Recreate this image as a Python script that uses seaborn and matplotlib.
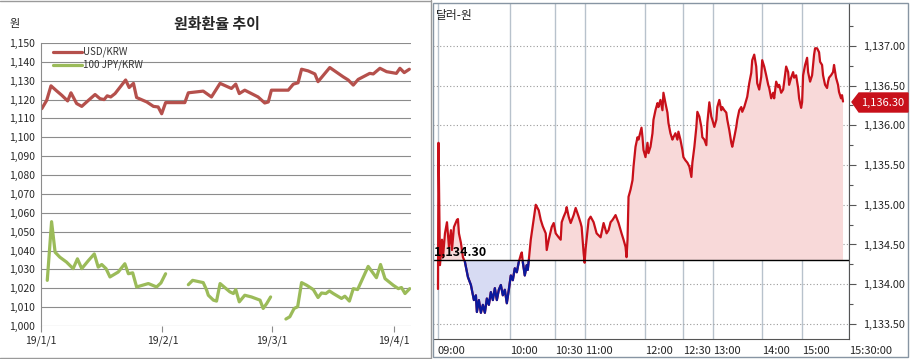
import numpy as np
import pandas as pd
import matplotlib
matplotlib.use("Agg")
import matplotlib.pyplot as plt
import seaborn as sns
from matplotlib.patches import Polygon, Rectangle
from matplotlib.lines import Line2D
from matplotlib.ticker import FixedLocator, FuncFormatter

sns.set_style("white")
plt.rcParams['font.family'] = ['Noto Sans CJK KR', 'DejaVu Sans']

# ---------------- Left panel data (days since 2019-01-01) ----------------
usd_day = [0.2, 1.45, 2.55, 4.0, 5.3, 6.8, 7.65, 9.1, 10.4, 12.1, 13.8, 15.05, 16.1, 16.9,
           17.8, 18.9, 21.6, 22.5, 23.6, 24.4, 27.0, 28.7, 29.9, 30.8, 31.8, 36.7, 37.6,
           41.4, 43.5, 45.7, 48.6, 49.7, 50.6, 52.0, 55.4, 57.1, 58.0, 58.8, 63.1, 64.4,
           65.6, 66.5, 68.2, 69.9, 70.7, 73.7, 77.1, 78.4, 79.7, 80.95, 83.9, 84.8, 86.5,
           88.2, 90.7, 91.6, 92.7, 94.0]
usd_val = [1115.2, 1119.6, 1127.3, 1124.6, 1122.3, 1119.3, 1123.6, 1117.9, 1116.4, 1119.6,
           1122.7, 1120.5, 1120.0, 1122.0, 1121.4, 1123.2, 1130.4, 1126.4, 1128.6, 1121.1,
           1118.75, 1116.4, 1116.1, 1112.5, 1118.4, 1118.4, 1123.6, 1124.5, 1121.4, 1128.6,
           1125.9, 1128.2, 1123.2, 1125.0, 1121.4, 1118.2, 1118.75, 1125.0, 1125.0, 1128.2,
           1128.9, 1136.1, 1135.2, 1133.6, 1129.5, 1137.0, 1132.1, 1130.4, 1127.7, 1130.7,
           1133.9, 1133.6, 1136.6, 1134.8, 1133.9, 1136.6, 1134.3, 1136.1]

jpy_day = [1.6, 2.7, 3.6, 4.8, 6.5, 8.2, 9.3, 10.4, 12.1, 13.6, 14.6, 15.5, 16.6, 17.6, 19.7,
           21.4, 22.3, 23.4, 24.4, 27.4, 29.5, 30.6, 31.8,
           37.6, 38.7, 41.4, 42.3, 42.7, 44.0, 44.8, 45.7, 48.2, 49.1, 49.7, 50.6, 52.0, 53.7,
           55.9, 56.7, 57.6, 58.6,
           62.5, 63.5, 64.6, 65.5, 66.5, 67.8, 69.5, 70.7, 71.6, 72.7, 73.6, 74.6, 76.7, 77.55,
           78.7, 79.7, 80.8, 83.5, 85.6, 86.65, 87.8, 89.9, 91.2, 92.0, 92.9, 94.1]
jpy_val = [1024.2, 1055.3, 1039.1, 1036.5, 1033.9, 1030.4, 1035.6, 1030.4, 1034.7, 1038.2,
           1031.2, 1032.6, 1030.4, 1026.0, 1028.6, 1033.0, 1027.7, 1028.2, 1020.7, 1022.5,
           1020.7, 1022.8, 1027.7,
           1021.9, 1024.2, 1023.0, 1018.9, 1016.3, 1013.7, 1013.2, 1022.5, 1018.1, 1017.2,
           1019.3, 1012.8, 1016.3, 1015.4, 1013.7, 1009.3, 1011.9, 1015.4,
           1003.7, 1004.9, 1009.3, 1010.2, 1023.0, 1021.6, 1019.3, 1015.1, 1017.5, 1017.2,
           1018.6, 1017.2, 1014.6, 1015.8, 1013.2, 1019.8, 1019.3, 1031.6, 1025.6, 1032.6,
           1025.1, 1021.6, 1019.8, 1020.4, 1017.2, 1019.8]
jpy_seg = [0] * 23 + [1] * 18 + [2] * 26

date_ticks = [0, 31, 59, 90]
date_labels = ['19/1/1', '19/2/1', '19/3/1', '19/4/1']
left_yticks = list(range(1000, 1151, 10))

# ---------------- Right panel data (intraday, tick index) ----------------
tick_idx = [0, 0.5, 2, 4, 5, 7, 9, 11, 13, 14, 16, 19, 20, 21, 23, 25, 27, 30, 33, 36, 38, 39,
            41, 43, 45, 47, 49, 51, 53, 55, 57, 59, 61, 63, 65, 67, 69, 71, 73, 75, 77, 79, 81,
            83, 84, 85, 87, 89, 90, 91, 93, 95, 98, 101, 103, 105, 108, 109, 111, 114, 116,
            118, 121, 123, 124, 126, 128, 129, 131, 133, 136, 138, 141, 143, 144, 146, 147,
            148, 151, 153, 156, 159, 163, 166, 169, 171, 173, 175, 178, 181, 184, 186, 188,
            189, 190, 191, 193, 195, 196, 198, 200, 201, 204, 205, 206, 208, 210, 211, 213,
            215, 216, 218, 220, 221, 223, 225, 226, 228, 230, 231, 233, 235, 236, 238, 240,
            241, 243, 245, 246, 248, 250, 252, 254, 255, 257, 259, 260, 262, 264, 265, 267,
            269, 270, 272, 274, 275, 277, 279, 280, 282, 284, 285, 287, 289, 290, 292, 294,
            295, 297, 299, 300, 302, 304, 305, 307, 309, 310, 312, 314, 315, 317, 319, 320,
            322, 324, 325, 327, 329, 331, 332, 334, 336, 337, 339, 341, 342, 344, 346, 347,
            349, 351, 352, 354, 356, 357, 359, 361, 362, 364, 365, 366, 368, 370, 371, 373,
            375, 377, 378, 380, 382, 383, 385, 386, 388, 390, 391, 392, 394, 396, 397, 399,
            401, 402, 404, 405, 406]
usdkrw_rate = [1133.94, 1135.78, 1134.24, 1134.56, 1134.34, 1134.64, 1134.78, 1134.47, 1134.68,
               1134.43, 1134.72, 1134.81, 1134.82, 1134.64, 1134.52, 1134.34, 1134.28, 1134.09,
               1133.99, 1133.80, 1133.86, 1133.65, 1133.80, 1133.64, 1133.74, 1133.64, 1133.82,
               1133.74, 1133.90, 1133.80, 1133.95, 1133.80, 1133.93, 1133.99, 1133.86, 1133.93,
               1133.76, 1133.93, 1134.11, 1134.05, 1134.20, 1134.15, 1134.28, 1134.37, 1134.40,
               1134.28, 1134.11, 1134.24, 1134.18, 1134.30, 1134.56, 1134.74, 1135.00, 1134.93,
               1134.81, 1134.73, 1134.64, 1134.43, 1134.56, 1134.72, 1134.77, 1134.64, 1134.59,
               1134.56, 1134.78, 1134.85, 1134.91, 1134.97, 1134.85, 1134.77, 1134.87, 1134.96,
               1134.85, 1134.77, 1134.72, 1134.39, 1134.27, 1134.45, 1134.81, 1134.85, 1134.78,
               1134.64, 1134.59, 1134.77, 1134.64, 1134.68, 1134.78, 1134.81, 1134.87, 1134.77,
               1134.64, 1134.56, 1134.47, 1134.34, 1134.56, 1135.10, 1135.19, 1135.31, 1135.48,
               1135.73, 1135.85, 1135.82, 1135.97, 1135.85, 1135.69, 1135.60, 1135.78, 1135.65,
               1135.73, 1135.90, 1136.07, 1136.19, 1136.28, 1136.23, 1136.32, 1136.19, 1136.41,
               1136.28, 1136.16, 1136.03, 1135.90, 1135.82, 1135.85, 1135.90, 1135.82, 1135.92,
               1135.82, 1135.69, 1135.60, 1135.56, 1135.53, 1135.48, 1135.35, 1135.53, 1135.73,
               1135.98, 1136.17, 1136.11, 1135.98, 1135.85, 1135.82, 1135.75, 1136.03, 1136.29,
               1136.11, 1136.07, 1135.98, 1136.07, 1136.23, 1136.32, 1136.19, 1136.23, 1136.19,
               1136.16, 1136.07, 1135.94, 1135.78, 1135.73, 1135.85, 1135.98, 1136.07, 1136.19,
               1136.23, 1136.17, 1136.23, 1136.32, 1136.36, 1136.53, 1136.66, 1136.82, 1136.89,
               1136.74, 1136.53, 1136.45, 1136.61, 1136.82, 1136.74, 1136.63, 1136.51, 1136.47,
               1136.34, 1136.41, 1136.34, 1136.55, 1136.48, 1136.51, 1136.41, 1136.45, 1136.55,
               1136.74, 1136.67, 1136.51, 1136.60, 1136.67, 1136.60, 1136.63, 1136.47, 1136.34,
               1136.22, 1136.29, 1136.63, 1136.76, 1136.85, 1136.67, 1136.55, 1136.63, 1136.89,
               1136.97, 1136.97, 1136.92, 1136.80, 1136.76, 1136.63, 1136.51, 1136.47, 1136.55,
               1136.60, 1136.63, 1136.67, 1136.76, 1136.60, 1136.51, 1136.42, 1136.34, 1136.38,
               1136.30]
base_rate = 1134.30
last_rate = 1136.30
time_pos = [0, 72, 117, 147, 208, 246, 276, 325, 365, 412]
time_labels = ['09:00', '10:00', '10:30', '11:00', '12:00', '12:30', '13:00', '14:00',
               '15:00', '15:30:00']
right_yticks = [1133.5, 1134.0, 1134.5, 1135.0, 1135.5, 1136.0, 1136.5, 1137.0]

# ---------------- Figure ----------------
W, H = 910, 359
fig = plt.figure(figsize=(W / 100, H / 100), dpi=100)


def fx(x):
    return x / W


def fy(y):
    return 1 - y / H


# ---- Left panel ----
axL = fig.add_axes([fx(41), fy(326), fx(410.5) - fx(41), fy(43) - fy(326)])
usd_df = pd.DataFrame({'day': usd_day, 'rate': usd_val})
jpy_df = pd.DataFrame({'day': jpy_day, 'rate': jpy_val, 'seg': jpy_seg})
usd_col = '#B5504C'
jpy_col = '#9BBB59'
sns.lineplot(data=usd_df, x='day', y='rate', ax=axL, color=usd_col, lw=2.3,
             sort=False, estimator=None)
sns.lineplot(data=jpy_df, x='day', y='rate', units='seg', estimator=None, ax=axL,
             color=jpy_col, lw=2.3, sort=False)
axL.set_xlim(0, 94.3)
axL.set_ylim(1000, 1150)
axL.set_yticks(left_yticks)
axL.set_yticklabels([f'{v:,}' for v in left_yticks], fontsize=7.5)
axL.set_xticks(date_ticks)
axL.set_xticklabels(date_labels, fontsize=7.5)
axL.set_xlabel('')
axL.set_ylabel('')
axL.grid(axis='y', color='#8C8C8C', lw=0.8)
axL.grid(axis='x', visible=False)
for s in ['top', 'right', 'bottom']:
    axL.spines[s].set_visible(False)
axL.spines['left'].set_color('#8C8C8C')
axL.spines['left'].set_linewidth(0.8)
axL.tick_params(axis='y', length=0, pad=4)
axL.tick_params(axis='x', length=4, width=0.8, color='#8C8C8C', pad=3, direction='out')
axL.xaxis.set_tick_params(which='both', bottom=True)
# manual legend
axL.add_line(Line2D([0.032, 0.111], [0.968, 0.968], transform=axL.transAxes,
                    color=usd_col, lw=2.3))
axL.add_line(Line2D([0.032, 0.111], [0.922, 0.922], transform=axL.transAxes,
                    color=jpy_col, lw=2.3))
axL.text(0.113, 0.968, 'USD/KRW', transform=axL.transAxes, fontsize=7,
         va='center', ha='left', color='#333333')
axL.text(0.113, 0.922, '100 JPY/KRW', transform=axL.transAxes, fontsize=7,
         va='center', ha='left', color='#333333')

fig.text(fx(217), fy(24), '원화환율 추이', fontsize=10.8, fontweight='bold',
         ha='center', va='center')
fig.text(fx(15), fy(24), '원', fontsize=8, ha='center', va='center')

# left frame
fig.add_artist(Line2D([fx(431), fx(431)], [fy(0), fy(358)], color='#9A9A9A', lw=1))
fig.add_artist(Line2D([fx(0), fx(431)], [fy(357.5), fy(357.5)], color='#9A9A9A', lw=1))
fig.add_artist(Line2D([fx(0), fx(431)], [fy(1), fy(1)], color='#9A9A9A', lw=1))

# ---- Right panel ----
axR = fig.add_axes([fx(433), fy(339), fx(849) - fx(433), fy(3) - fy(339)])
p = np.array(tick_idx, dtype=float)
v = np.array(usdkrw_rate)
red = '#C8101A'
blue = '#0A1A9E'
axR.fill_between(p, v, base_rate, where=v >= base_rate, interpolate=True,
                 color='#F8D9D9', lw=0)
axR.fill_between(p, v, base_rate, where=v <= base_rate, interpolate=True,
                 color='#D7DBF3', lw=0)
rate_df = pd.DataFrame({'idx': tick_idx, 'rate': usdkrw_rate})
sns.lineplot(data=rate_df, x='idx', y='rate', ax=axR, color=red, lw=1.6,
             sort=False, estimator=None)
axR.plot(p, np.where(v <= base_rate + 0.005, v, np.nan), color=blue, lw=1.6)
axR.axhline(base_rate, color='black', lw=1)
axR.text(-4, base_rate + 0.02, f'{base_rate:,.2f}', fontsize=9, fontweight='bold',
         ha='left', va='bottom', color='black')

axR.set_xlim(-5, 412)
axR.set_ylim(1133.31, 1137.54)
axR.set_xlabel('')
axR.set_ylabel('')
axR.set_xticks(time_pos)
axR.set_xticklabels(time_labels, ha='left', fontsize=8)
axR.yaxis.tick_right()
axR.yaxis.set_major_locator(FixedLocator(right_yticks))
axR.yaxis.set_minor_locator(FixedLocator([t + 0.25 for t in right_yticks]))
axR.yaxis.set_major_formatter(FuncFormatter(lambda val, pos: f'{val:,.2f}'))
axR.tick_params(axis='y', which='major', length=5, width=0.8, color='#555555',
                labelsize=7.8, pad=5)
axR.tick_params(axis='y', which='minor', length=3, width=0.8, color='#555555')
axR.tick_params(axis='x', length=4, width=0.8, color='#555555', pad=1)
axR.grid(axis='x', color='#B8C2CC', lw=1, ls='-')
axR.grid(axis='y', which='major', color='#9A9A9A', lw=0.8, ls=(0, (1, 2)))
axR.spines['top'].set_visible(False)
axR.spines['left'].set_visible(False)
axR.spines['right'].set_color('#555555')
axR.spines['bottom'].set_color('#555555')
axR.spines['right'].set_linewidth(0.8)
axR.spines['bottom'].set_linewidth(0.8)

fig.text(fx(436), fy(15), '달러-원', fontsize=8.5, ha='left', va='center')

# right frame
fig.add_artist(Rectangle((fx(433), fy(357)), fx(908) - fx(433), fy(3) - fy(357),
                         transform=fig.transFigure, fill=False, edgecolor='#8795A3', lw=1))

# last price tag
tag = Polygon([(fx(852), fy(102)), (fx(859), fy(93)), (fx(908), fy(93)),
               (fx(908), fy(112)), (fx(859), fy(112))], closed=True,
              transform=fig.transFigure, facecolor=red, edgecolor=red)
fig.add_artist(tag)
fig.text(fx(883), fy(102.5), f'{last_rate:,.2f}', fontsize=8, color='white',
         ha='center', va='center')

fig.savefig('out.png', dpi=100)
